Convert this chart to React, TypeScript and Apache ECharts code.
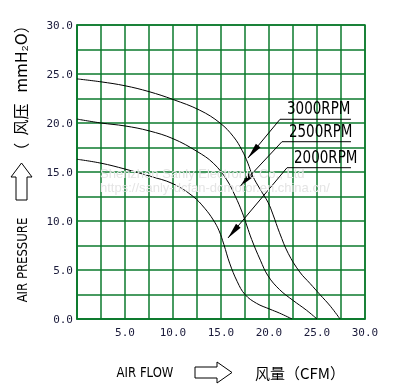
import React, { useEffect, useRef } from 'react';
import * as echarts from 'echarts';

// Air flow (CFM) / static pressure (mmH2O) readings for each speed
const flow3000 = [0, 2.5, 5, 7.5, 10, 12.8, 14.9, 16.3, 17.2, 17.8, 18.3, 19.1, 19.9, 20.4, 21.1, 22.0, 23.2, 24.3, 25.3, 26.4, 27.4];
const pressure3000 = [24.5, 24.2, 23.8, 23.2, 22.4, 21.3, 20.0, 18.6, 17.2, 15.9, 14.6, 13.2, 11.9, 10.7, 8.8, 6.7, 4.8, 3.6, 2.5, 1.3, 0];

const flow2500 = [0, 2.5, 5, 7.5, 10, 12.5, 14.2, 15.6, 16.5, 17.2, 17.7, 18.2, 19.1, 19.9, 21.1, 22.5, 23.9, 25.0];
const pressure2500 = [20.4, 20.0, 19.7, 19.2, 18.4, 17.1, 15.9, 14.2, 12.5, 10.9, 9.5, 8.1, 6.0, 4.4, 3.0, 1.9, 0.9, 0];

const flow2000 = [0, 2.5, 5, 7.5, 10, 12.1, 13.3, 14.2, 14.8, 15.3, 15.9, 16.7, 17.5, 18.7, 20.1, 21.1, 22.4];
const pressure2000 = [16.3, 15.9, 15.3, 14.6, 13.8, 12.5, 11.3, 10.1, 9.0, 7.6, 5.7, 3.8, 2.5, 1.6, 1.0, 0.6, 0];

const rpmLabels = ['3000RPM', '2500RPM', '2000RPM'];
// label underline (flow start, flow end, pressure) and arrow tip (flow, pressure), in data units
const labelLineStartFlow = [21.15, 21.35, 21.88];
const labelLineEndFlow = [28.54, 28.54, 28.54];
const labelLinePressure = [20.38, 18.09, 15.44];
const arrowTipFlow = [17.81, 16.98, 15.73];
const arrowTipPressure = [16.43, 13.52, 8.27];

const axisMin = 0;
const axisMax = 30;
const gridStep = 2.5;
const labelStep = 5;

const zip = (xs: number[], ys: number[]) => xs.map((x, i) => [x, ys[i]]);

export default function App() {
  const ref = useRef<HTMLDivElement>(null);
  useEffect(() => {
    const chart = echarts.init(ref.current!, null, { renderer: 'svg' });
    const green = '#0b7a2c';
    const narrow = '"Liberation Sans Narrow", "DejaVu Sans Condensed", sans-serif';
    const tickFont = { fontFamily: 'DejaVu Sans Mono', fontSize: 11, color: '#1a1a3a' };
    const curve = (name: string, xs: number[], ys: number[]) => ({
      type: 'line',
      name,
      data: zip(xs, ys),
      showSymbol: false,
      smooth: 0.4,
      lineStyle: { color: '#000', width: 1 },
      z: 5,
    });
    chart.setOption({
      animation: false,
      grid: { left: 77, top: 25, width: 288, height: 294, show: true, borderColor: green, borderWidth: 1.5, backgroundColor: 'transparent' },
      xAxis: {
        type: 'value', min: axisMin, max: axisMax, interval: gridStep,
        axisLine: { show: true, lineStyle: { color: green, width: 1.5 } },
        axisTick: { show: false },
        splitLine: { show: true, lineStyle: { color: green, width: 1.5 } },
        axisLabel: {
          ...tickFont, margin: 8,
          formatter: (v: number) => (v % labelStep === 0 && v !== 0 ? v.toFixed(1) : ''),
        },
      },
      yAxis: {
        type: 'value', min: axisMin, max: axisMax, interval: gridStep,
        axisLine: { show: true, lineStyle: { color: green, width: 1.5 } },
        axisTick: { show: false },
        splitLine: { show: true, lineStyle: { color: green, width: 1.5 } },
        axisLabel: {
          ...tickFont, margin: 4,
          formatter: (v: number) => (v % labelStep === 0 ? v.toFixed(1) : ''),
        },
      },
      series: [
        curve('3000RPM', flow3000, pressure3000),
        curve('2500RPM', flow2500, pressure2500),
        curve('2000RPM', flow2000, pressure2000),
      ],
    });

    const px = (x: number, y: number) => chart.convertToPixel({ gridIndex: 0 }, [x, y]) as number[];
    const graphics: any[] = [];
    rpmLabels.forEach((label, i) => {
      const a = px(labelLineStartFlow[i], labelLinePressure[i]);
      const b = px(labelLineEndFlow[i], labelLinePressure[i]);
      const t = px(arrowTipFlow[i], arrowTipPressure[i]);
      graphics.push({ type: 'polyline', shape: { points: [b, a, t] }, style: { stroke: '#000', lineWidth: 1, fill: null }, z: 20 });
      const dx = t[0] - a[0], dy = t[1] - a[1];
      const len = Math.hypot(dx, dy);
      const ux = dx / len, uy = dy / len;
      const L = 16, W = 3;
      const bx = t[0] - ux * L, by = t[1] - uy * L;
      graphics.push({
        type: 'polygon',
        shape: { points: [t, [bx - uy * W, by + ux * W], [bx + uy * W, by - ux * W]] },
        style: { fill: '#000' }, z: 21,
      });
      graphics.push({
        type: 'text', x: a[0] + 7, y: a[1] - 2, scaleY: 1.18,
        style: { text: label, fontFamily: narrow, fontSize: 15, fill: '#000', align: 'left', verticalAlign: 'bottom' },
        z: 21,
      });
    });

    // watermark
    graphics.push({ type: 'text', x: 100, y: 173, style: { text: 'Shenzhen Sanly Electronic Co., Ltd', fontFamily: 'Liberation Sans', fontSize: 13, fill: '#e4e4e4', align: 'left', verticalAlign: 'middle' }, z: 30 });
    graphics.push({ type: 'text', x: 100, y: 187, style: { text: 'https://sanly-dcfan-dcmotor.en.china.cn/', fontFamily: 'Liberation Sans', fontSize: 13, fill: '#e4e4e4', align: 'left', verticalAlign: 'middle' }, z: 30 });

    // y axis title pieces
    graphics.push({ type: 'text', x: 22, y: 260, rotation: Math.PI / 2, scaleY: 1.15, style: { text: 'AIR PRESSURE', fontFamily: narrow, fontSize: 13, fill: '#000', align: 'center', verticalAlign: 'middle' } });
    graphics.push({ type: 'polygon', shape: { points: [[21.5, 163], [32, 177], [27, 177], [27, 200], [16, 200], [16, 177], [11, 177]] }, style: { fill: '#fff', stroke: '#000', lineWidth: 1 } });
    graphics.push({ type: 'text', x: 20, y: 88, rotation: Math.PI / 2, style: { text: '（  风压   mmH₂O）', fontFamily: '"Noto Sans CJK SC", sans-serif', fontSize: 16, fill: '#000', align: 'center', verticalAlign: 'middle' } });

    // x axis title pieces
    graphics.push({ type: 'text', x: 145, y: 372, scaleY: 1.15, style: { text: 'AIR FLOW', fontFamily: narrow, fontSize: 13, fill: '#000', align: 'center', verticalAlign: 'middle' } });
    graphics.push({ type: 'polygon', shape: { points: [[232, 372.5], [217, 362], [217, 367], [195, 367], [195, 378], [217, 378], [217, 383]] }, style: { fill: '#fff', stroke: '#000', lineWidth: 1 } });
    graphics.push({ type: 'text', x: 255, y: 372, style: { text: '风量（CFM）', fontFamily: '"Noto Sans CJK SC", sans-serif', fontSize: 15, fill: '#000', align: 'left', verticalAlign: 'middle' } });

    chart.setOption({ graphic: graphics });
    return () => chart.dispose();
  }, []);
  return <div ref={ref} style={{ position: 'fixed', left: 0, top: 0, width: 395, height: 389 }} />;
}
